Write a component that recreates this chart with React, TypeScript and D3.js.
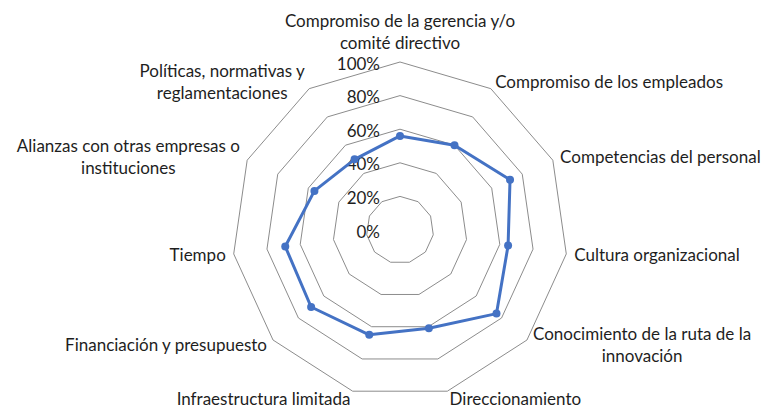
import React, { useEffect, useRef } from "react";
import * as d3 from "d3";

const categories: string[] = [
  "Compromiso de la gerencia y/o\ncomité directivo",
  "Compromiso de los empleados",
  "Competencias del personal",
  "Cultura organizacional",
  "Conocimiento de la ruta de la\ninnovación",
  "Direccionamiento",
  "Infraestructura limitada",
  "Financiación y presupuesto",
  "Tiempo",
  "Alianzas con otras empresas o\ninstituciones",
  "Políticas, normativas y\nreglamentaciones",
];

const values: number[] = [0.56, 0.6, 0.72, 0.65, 0.76, 0.61, 0.65, 0.7, 0.69, 0.56, 0.5];

const ticks: number[] = [0, 0.2, 0.4, 0.6, 0.8, 1.0];

const W = 768;
const H = 408;
const FONT = "Lato, 'Open Sans', sans-serif";
const FS = 17;
const LH = 22;
const TXT = "#1e1e1e";

export default function App() {
  const ref = useRef<SVGSVGElement>(null);

  useEffect(() => {
    const svg = d3.select(ref.current);
    svg.selectAll("*").remove();
    const cx = 400;
    const cy = 230;
    const R = 168;
    const n = categories.length;
    const r = d3.scaleLinear().domain([0, 1]).range([0, R]);
    const ang = (i: number) => (i * 2 * Math.PI) / n;
    const pt = (i: number, v: number): [number, number] => [
      cx + r(v) * Math.sin(ang(i)),
      cy - r(v) * Math.cos(ang(i)),
    ];

    const g = svg.append("g");

    // grid rings
    ticks.forEach((t) => {
      if (t === 0) return;
      const pts = d3.range(n).map((i) => pt(i, t));
      g.append("path")
        .attr("d", d3.line().curve(d3.curveLinearClosed)(pts) as string)
        .attr("fill", "none")
        .attr("stroke", "#8c8c8c")
        .attr("stroke-width", 1);
    });

    // tick labels
    ticks.forEach((t) => {
      g.append("text")
        .attr("x", cx - 20)
        .attr("y", cy - r(t) + 7.5)
        .attr("text-anchor", "end")
        .attr("font-family", FONT)
        .attr("font-size", FS)
        .attr("fill", TXT)
        .text(d3.format(".0%")(t));
    });

    // series
    const spts = values.map((v, i) => pt(i, v));
    g.append("path")
      .attr("d", d3.line().curve(d3.curveLinearClosed)(spts) as string)
      .attr("fill", "none")
      .attr("stroke", "#4472C4")
      .attr("stroke-width", 3)
      .attr("stroke-linejoin", "round");
    g.selectAll("circle.m")
      .data(spts)
      .enter()
      .append("circle")
      .attr("class", "m")
      .attr("cx", (d) => d[0])
      .attr("cy", (d) => d[1])
      .attr("r", 4)
      .attr("fill", "#4472C4");

    // category labels
    categories.forEach((label, i) => {
      const lines = label.split("\n");
      const a = ang(i);
      const s = Math.sin(a);
      const c = Math.cos(a);
      const px = cx + (R + 8) * s;
      const py = cy - (R + 8) * c;
      const tg = g.append("g");
      const texts = lines.map((ln) =>
        tg
          .append("text")
          .attr("font-family", FONT)
          .attr("font-size", FS)
          .attr("fill", TXT)
          .attr("text-anchor", "middle")
          .text(ln)
      );
      const widths = texts.map((t) => (t.node() as SVGTextElement).getComputedTextLength());
      const bw = Math.max(...widths);
      const bh = lines.length * LH;
      let centerX: number;
      let centerY: number;
      if (Math.abs(s) < 0.01) {
        centerX = px;
        centerY = c > 0 ? py - bh / 2 : py + bh / 2;
      } else {
        centerX = s > 0 ? px + bw / 2 : px - bw / 2;
        centerY = py;
      }
      centerY = Math.min(centerY, H - 9);
      texts.forEach((t, k) => {
        t.attr("x", centerX).attr("y", centerY - bh / 2 + LH * k + LH / 2 + 6);
      });
    });
  }, []);

  return (
    <svg
      ref={ref}
      width={W}
      height={H}
      style={{ position: "absolute", left: 0, top: 0, background: "#fff" }}
    />
  );
}
